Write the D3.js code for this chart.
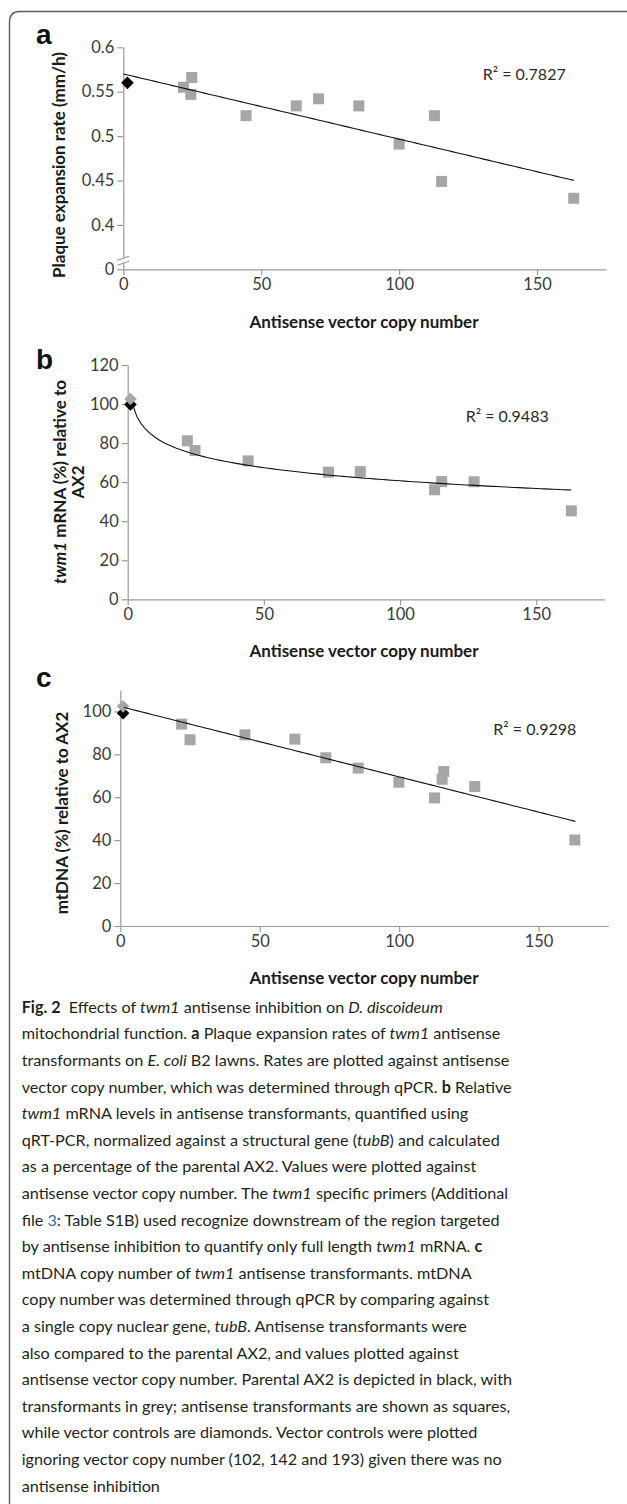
<!DOCTYPE html>
<html lang="en">
	<head>
		<meta charset="utf-8">
		<title>Fig. 2 - twm1 antisense inhibition</title>
		<script type="text/javascript" src="https://cdn.jsdelivr.net/npm/d3@7"></script>
		<style type="text/css">
			body {
				margin: 0;
				background: #fff;
			}
			svg {
				display: block;
			}
			.axis path, .axis line {
				stroke: #9a9a9a;
				stroke-width: 1.2px;
			}
			.axis text {
				font-family: Lato, sans-serif;
				font-size: 16.5px;
				fill: #3a3a3a;
			}
			.title {
				font-family: Lato, sans-serif;
				font-size: 17px;
				font-weight: bold;
				fill: #1a1a1a;
			}
			.r2 {
				font-family: Lato, sans-serif;
				font-size: 16px;
				fill: #2a2a2a;
			}
			.letter {
				font-family: "Liberation Sans", Arial, sans-serif;
				font-size: 28px;
				font-weight: bold;
				fill: #111;
			}
			.caption {
				font-family: Lato, sans-serif;
				font-size: 16.2px;
				fill: #231f20;
			}
		</style>
	</head>
	<body>
		<script type="text/javascript">

			//Shared x axis ticks (antisense vector copy number)
			var xTickValues = [0, 50, 100, 150];
			var xDomain = [0, 175];

			//Panel a - plaque expansion rate (mm/h)
			var aCopyNumber = [21.8, 24.8, 24.5, 44.5, 62.7, 70.8, 85.4, 100.0, 112.8, 115.4, 163.3];
			var aRate = [0.555, 0.566, 0.547, 0.523, 0.534, 0.542, 0.534, 0.491, 0.523, 0.449, 0.430];
			var aParent = [1.5, 0.560];
			var aYTicks = [0.35, 0.4, 0.45, 0.5, 0.55, 0.6];
			var aYTickLabels = ["0", "0.4", "0.45", "0.5", "0.55", "0.6"];
			var aTrendCoef = [-0.000734, 0.570];
			var aTrendRange = [0, 163.3];
			var aR2 = "R\u00b2 = 0.7827";

			//Panel b - twm1 mRNA (%) relative to AX2
			var bCopyNumber = [21.9, 24.7, 44.2, 73.7, 85.4, 112.7, 115.3, 127.2, 162.9];
			var bMRNA = [81.2, 76.2, 70.9, 65.1, 65.4, 56.1, 60.3, 60.2, 45.3];
			var bParent = [1, 99.8];
			var bControl = [1, 102.6];
			var bYTicks = [0, 20, 40, 60, 80, 100, 120];
			var bTrendCoef = [-9.71, 105.4];
			var bTrendRange = [1.75, 162.9];
			var bR2 = "R\u00b2 = 0.9483";

			//Panel c - mtDNA (%) relative to AX2
			var cCopyNumber = [22.0, 25.0, 44.7, 62.6, 73.7, 85.3, 99.9, 112.7, 115.4, 116.0, 127.1, 163.0];
			var cMtDNA = [94.1, 86.8, 89.1, 87.1, 78.4, 73.6, 67.0, 59.7, 68.4, 72.0, 65.0, 40.1];
			var cParent = [1, 99.2];
			var cControl = [1, 102.4];
			var cYTicks = [0, 20, 40, 60, 80, 100];
			var cTrendCoef = [-0.328, 102.3];
			var cTrendRange = [1.3, 163.2];
			var cR2 = "R\u00b2 = 0.9298";

			//Width and height of SVG canvas
			var w = 627;
			var h = 1504;

			var squareColor = "#a6a6a6";

			var svg = d3.select("body")
						.append("svg")
						.attr("width", w)
						.attr("height", h);

			//Figure frame (left and top rule with rounded corner)
			svg.append("path")
				.attr("d", "M9.5,1504 V22 Q9.5,11.5 20,11.5 H627")
				.attr("fill", "none")
				.attr("stroke", "#5c5c5c")
				.attr("stroke-width", 1.4);

			//Draw one scatter panel
			function drawPanel(p) {

				var xScale = d3.scaleLinear()
							.domain(xDomain)
							.range([p.left, p.right]);

				var yScale = d3.scaleLinear()
							.domain(p.yDomain)
							.range([p.bottom, p.top]);

				var g = svg.append("g");

				//x axis
				g.append("g")
					.attr("class", "axis")
					.attr("transform", "translate(0," + p.bottom + ")")
					.call(d3.axisBottom(xScale)
						.tickValues(xTickValues)
						.tickSizeInner(6)
						.tickSizeOuter(0)
						.tickPadding(3));

				//y axis
				g.append("g")
					.attr("class", "axis")
					.attr("transform", "translate(" + p.left + ",0)")
					.call(d3.axisLeft(yScale)
						.tickValues(p.yTicks)
						.tickFormat(function(d, i) { return p.yLabels ? p.yLabels[i] : d; })
						.tickSizeInner(6)
						.tickSizeOuter(0)
						.tickPadding(3));

				g.selectAll(".axis .domain").attr("stroke", "#9a9a9a");

				//Axis break for panel a
				if (p.axisBreak) {
					var by = yScale(p.axisBreak);
					g.append("path")
						.attr("d", "M" + (p.left - 6) + "," + (by + 2) + " L" + (p.left + 6) + "," + (by - 2) +
							" L" + (p.left + 6) + "," + (by + 3) + " L" + (p.left - 6) + "," + (by + 7) + "Z")
						.attr("fill", "#fff");
					[0, 5].forEach(function(o) {
						g.append("line")
							.attr("x1", p.left - 6).attr("y1", by + 2 + o)
							.attr("x2", p.left + 6).attr("y2", by - 2 + o)
							.attr("stroke", "#9a9a9a")
							.attr("stroke-width", 1.1);
					});
				}

				//Parental AX2 (black diamond)
				g.append("path")
					.attr("d", d3.symbol(d3.symbolSquare, 80)())
					.attr("transform", "translate(" + xScale(p.parent[0]) + "," + yScale(p.parent[1]) + ") rotate(45)")
					.attr("fill", "#000");

				//Vector control (grey diamond)
				if (p.control) {
					g.append("path")
						.attr("d", d3.symbol(d3.symbolSquare, 80)())
						.attr("transform", "translate(" + xScale(p.control[0]) + "," + yScale(p.control[1]) + ") rotate(45)")
						.attr("fill", squareColor);
				}

				//Antisense transformants (grey squares)
				g.selectAll("path.sq")
					.data(p.xs)
					.enter()
					.append("path")
					.attr("class", "sq")
					.attr("d", d3.symbol(d3.symbolSquare, 121)())
					.attr("transform", function(d, i) { return "translate(" + xScale(d) + "," + yScale(p.ys[i]) + ")"; })
					.attr("fill", squareColor);

				//Trend line
				var trendX = d3.range(0, 101).map(function(k) {
					return p.trendRange[0] + (p.trendRange[1] - p.trendRange[0]) * k / 100;
				});
				var line = d3.line()
							.x(function(d) { return xScale(d); })
							.y(function(d) {
								var v = p.trendType === "log" ? Math.log(d) : d;
								return yScale(p.trendCoef[0] * v + p.trendCoef[1]);
							});
				g.append("path")
					.datum(trendX)
					.attr("d", line)
					.attr("fill", "none")
					.attr("stroke", "#111")
					.attr("stroke-width", 1.1);

				//R squared label
				g.append("text")
					.attr("class", "r2")
					.attr("x", p.r2Pos[0])
					.attr("y", p.r2Pos[1])
					.text(p.r2);

				//Panel letter
				g.append("text")
					.attr("class", "letter")
					.attr("x", 36)
					.attr("y", p.letterY)
					.text(p.letter);

				//x axis title
				g.append("text")
					.attr("class", "title")
					.attr("text-anchor", "middle")
					.attr("x", 364)
					.attr("y", p.xTitleY)
					.text("Antisense vector copy number");

				//y axis title (one or two lines, segments may be italic)
				p.yTitle.forEach(function(lineSegs, li) {
					var t = g.append("text")
						.attr("class", "title")
						.attr("text-anchor", "middle")
						.attr("transform", "translate(" + (p.yTitleX + li * p.yTitleGap) + "," + p.yTitleY + ") rotate(-90)");
					lineSegs.forEach(function(s) {
						t.append("tspan")
							.attr("font-style", s[0] === "i" ? "italic" : null)
							.text(s[1]);
					});
				});
			}

			drawPanel({
				left: 123.3, right: 606, top: 47.3, bottom: 269.3,
				yDomain: [0.35, 0.6], yTicks: aYTicks, yLabels: aYTickLabels,
				axisBreak: 0.3625,
				xs: aCopyNumber, ys: aRate, parent: aParent, control: null,
				trendType: "linear", trendCoef: aTrendCoef, trendRange: aTrendRange,
				r2: aR2, r2Pos: [482.7, 80],
				letter: "a", letterY: 43.5,
				xTitleY: 328,
				yTitle: [[["r", "Plaque expansion rate (mm/h)"]]], yTitleX: 65, yTitleY: 165, yTitleGap: 0
			});

			drawPanel({
				left: 127.7, right: 604.3, top: 365, bottom: 599.3,
				yDomain: [0, 120], yTicks: bYTicks,
				xs: bCopyNumber, ys: bMRNA, parent: bParent, control: bControl,
				trendType: "log", trendCoef: bTrendCoef, trendRange: bTrendRange,
				r2: bR2, r2Pos: [465.7, 421.7],
				letter: "b", letterY: 369,
				xTitleY: 657,
				yTitle: [[["i", "twm1"], ["r", " mRNA (%) relative to"]], [["r", "AX2"]]], yTitleX: 66, yTitleY: 482, yTitleGap: 18
			});

			drawPanel({
				left: 120.3, right: 608.3, top: 690, bottom: 926,
				yDomain: [0, 110], yTicks: cYTicks,
				xs: cCopyNumber, ys: cMtDNA, parent: cParent, control: cControl,
				trendType: "linear", trendCoef: cTrendCoef, trendRange: cTrendRange,
				r2: cR2, r2Pos: [493.3, 735],
				letter: "c", letterY: 686.7,
				xTitleY: 984,
				yTitle: [[["r", "mtDNA (%) relative to AX2"]]], yTitleX: 68, yTitleY: 813, yTitleGap: 0
			});

			//Figure caption, one entry per printed line: [style, text]
			var captionLines = [
				[["b", "Fig. 2"], ["s", "Effects of "], ["i", "twm1"], ["r", " antisense inhibition on "], ["i", "D. discoideum"]],
				[["r", "mitochondrial function. "], ["b", "a"], ["r", " Plaque expansion rates of "], ["i", "twm1"], ["r", " antisense"]],
				[["r", "transformants on "], ["i", "E. coli"], ["r", " B2 lawns. Rates are plotted against antisense"]],
				[["r", "vector copy number, which was determined through qPCR. "], ["b", "b"], ["r", " Relative"]],
				[["i", "twm1"], ["r", " mRNA levels in antisense transformants, quantified using"]],
				[["r", "qRT-PCR, normalized against a structural gene ("], ["i", "tubB"], ["r", ") and calculated"]],
				[["r", "as a percentage of the parental AX2. Values were plotted against"]],
				[["r", "antisense vector copy number. The "], ["i", "twm1"], ["r", " specific primers (Additional"]],
				[["r", "file "], ["l", "3"], ["r", ": Table S1B) used recognize downstream of the region targeted"]],
				[["r", "by antisense inhibition to quantify only full length "], ["i", "twm1"], ["r", " mRNA. "], ["b", "c"]],
				[["r", "mtDNA copy number of "], ["i", "twm1"], ["r", " antisense transformants. mtDNA"]],
				[["r", "copy number was determined through qPCR by comparing against"]],
				[["r", "a single copy nuclear gene, "], ["i", "tubB"], ["r", ". Antisense transformants were"]],
				[["r", "also compared to the parental AX2, and values plotted against"]],
				[["r", "antisense vector copy number. Parental AX2 is depicted in black, with"]],
				[["r", "transformants in grey; antisense transformants are shown as squares,"]],
				[["r", "while vector controls are diamonds. Vector controls were plotted"]],
				[["r", "ignoring vector copy number (102, 142 and 193) given there was no"]],
				[["r", "antisense inhibition"]]
			];

			var caption = svg.append("g").attr("class", "caption");

			captionLines.forEach(function(segs, i) {
				var t = caption.append("text")
					.attr("x", 21.7)
					.attr("y", 1012.7 + i * 26.6)
					.attr("xml:space", "preserve");
				segs.forEach(function(s) {
					var ts = t.append("tspan").text(s[1]);
					if (s[0] === "b") ts.attr("font-weight", "bold");
					if (s[0] === "i") ts.attr("font-style", "italic");
					if (s[0] === "l") ts.attr("fill", "#2f6fb8");
					if (s[0] === "s") ts.attr("dx", 8);
				});
			});

		</script>
	</body>
</html>
